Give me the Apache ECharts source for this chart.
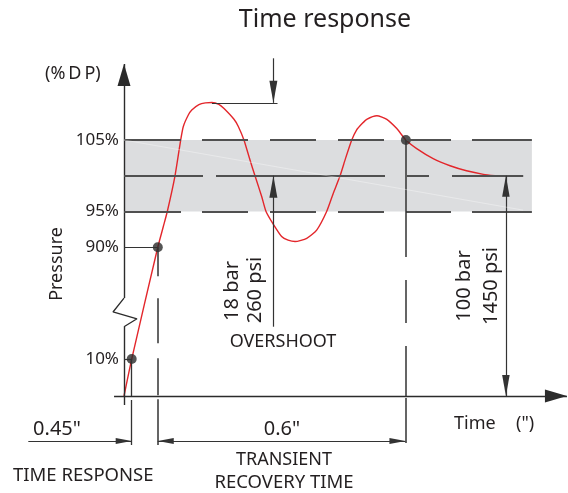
<!DOCTYPE html>
<html>
<head>
<meta charset="utf-8">
<title>Time response</title>
<script src="https://cdn.jsdelivr.net/npm/echarts@6/dist/echarts.min.js"></script>
<style>
  html, body { margin: 0; padding: 0; background: #ffffff; }
  #chart { width: 568px; height: 493px; }
</style>
</head>
<body>
<div id="chart"></div>
<script>
// ---- Step response of the pressure loop (schematic, time axis not to scale) ----
// time in diagram units, pressure in % of the set value
const curveTime = [0, 1.78, 7.8, 9.08, 10.0, 11.78, 13.09, 13.7, 14.85, 15.65, 17.3, 18.8,
  20.3, 21.9, 23.1, 25.4, 26.4, 27.7, 29.1, 30.25, 31.8, 32.8, 34.5, 36.4, 37.9, 39.5,
  42.2, 44.5, 46.8, 48.3, 49.9, 51.2, 52.6, 53.7, 55.0, 56.05, 58.4, 60.7, 63.0, 65.1,
  67.6, 71.4, 75.3, 79.1, 83.0, 85.7];
const curvePct = [0, 10, 90, 92.9, 95, 100, 105, 106.9, 108.5, 109.2, 109.95, 110.2,
  110.25, 110.0, 109.4, 107.9, 106.9, 105, 102.2, 100, 97.1, 95, 93.2, 91.5, 91.0, 90.8,
  91.25, 92.4, 95, 97.5, 100, 102.5, 105, 106.4, 107.3, 107.9, 108.4, 107.9, 106.6, 105,
  103.8, 102.4, 101.4, 100.7, 100.2, 100.0];

// measured points: 10 %, 90 % and re-entry into the 105 % band
const markerTime = [1.78, 7.8, 65.1];
const markerPct = [10, 90, 105];

// pressure axis
const tickPct = [10, 90, 95, 105];
const tickLabels = ['10%', '90%', '95%', '105%'];
const bandPct = [95, 105];
const setPct = 100;

// overshoot peak
const peakTime = 20.3;
const peakPct = 110.2;

// dimension texts
const responseText = '0.45"';
const recoveryText = '0.6"';
const overshootText = ['18 bar', '260 psi'];
const rangeText = ['100 bar', '1450 psi'];

// ---- layout ----
const W = 568, H = 493;
const ORIGIN = [124, 396];          // pixel position of the axes' crossing
const PX_T = 4.33, PX_L = 7.15;     // pixels per time unit / per level unit
const X_MIN = -ORIGIN[0] / PX_T, X_MAX = (W - ORIGIN[0]) / PX_T;
const Y_MIN = -(H - ORIGIN[1]) / PX_L, Y_MAX = ORIGIN[1] / PX_L;

// broken pressure scale: 0-10 % compressed, 10-90 % cut, above 90 % linear
const BREAK = { lowPct: 10, lowLevel: 5.17, highPct: 90, highLevel: 20.8 };
function level(p) {
  if (p <= BREAK.lowPct) return p * BREAK.lowLevel / BREAK.lowPct;
  if (p <= BREAK.highPct) {
    return BREAK.lowLevel + (p - BREAK.lowPct) *
      (BREAK.highLevel - BREAK.lowLevel) / (BREAK.highPct - BREAK.lowPct);
  }
  return BREAK.highLevel + (p - BREAK.highPct);
}
const tickLevels = tickPct.map(level);

// placement of the drawing aids (diagram units)
const overshootT = 34.5, recoveryT = 88.2, bandEndT = 94.2, setLineEndT = 92.2;
const peakLineEndT = 35.45;
const dimLevel = -6.3, extLevel = -6.85, extLevel2 = -6.6;
const axisLow = -1.26, axisTip = 46.43, xAxisStart = -2.3, xAxisTip = 102.3;
const breakTop = 13.7, breakBottom = 9.69;
const overshootTop = 47.23, overshootBottom = 9.69;
const dimLeftStart = -22.1;

const FONT = '"Noto Sans", "Open Sans", sans-serif';
const INK = '#231f20';
const AXIS = { color: '#2b2b2b', width: 1.4, type: 'solid' };
const DIM = { color: '#333333', width: 1.2, type: 'solid' };
const LEVEL = '#505050';

function end(t, l, arrow) {
  const o = { coord: [t, l] };
  if (arrow) {
    o.symbol = 'triangle';
    o.symbolSize = arrow;
    o.symbolOffset = [0, '50%'];
  } else {
    o.symbol = 'none';
  }
  return o;
}
function seg(a, b, style) {
  a.lineStyle = style;
  return [a, b];
}

const AX_ARROW = [13, 22];
const DIM_ARROW = [6, 16];
const OS_ARROW = [8, 22];
const RG_ARROW = [7.5, 21];

const guideLines = [
  // axes
  seg(end(0, axisLow), end(0, breakBottom), AXIS),
  seg(end(0, breakTop), end(0, axisTip, AX_ARROW), AXIS),
  seg(end(xAxisStart, 0), end(xAxisTip, 0, AX_ARROW), AXIS),
  // tolerance band borders and set value
  seg(end(0, level(bandPct[1])), end(bandEndT, level(bandPct[1])),
    { color: LEVEL, width: 2, type: [57, 21, 46, 22, 46, 22, 46, 22, 45, 21, 60] }),
  seg(end(0, level(bandPct[0])), end(bandEndT, level(bandPct[0])),
    { color: LEVEL, width: 2, type: [57, 21, 46, 22, 46, 22, 46, 22, 45, 21, 60] }),
  seg(end(0, level(setPct)), end(setLineEndT, level(setPct)),
    { color: LEVEL, width: 2, type: [79, 13, 169, 22, 22, 23, 72] }),
  // leaders to the 10 % / 90 % points
  seg(end(0, level(markerPct[0])), end(markerTime[0], level(markerPct[0])), DIM),
  seg(end(0, level(markerPct[1])), end(markerTime[1], level(markerPct[1])), DIM),
  // extension lines down to the time dimensions
  seg(end(markerTime[0], level(markerPct[0])), end(markerTime[0], extLevel),
    { color: '#333333', width: 1.3, type: [37, 4, 46] }),
  seg(end(markerTime[1], level(markerPct[1])), end(markerTime[1], extLevel),
    { color: '#333333', width: 1.5, type: [29, 22, 45, 15, 37, 4, 46] }),
  seg(end(markerTime[2], level(markerPct[2])), end(markerTime[2], extLevel2),
    { color: '#333333', width: 1.5, type: [117, 23, 43, 23, 50, 2, 45] }),
  // overshoot dimension
  seg(end(peakTime, level(peakPct)), end(peakLineEndT, level(peakPct)), DIM),
  seg(end(overshootT, overshootTop), end(overshootT, level(peakPct), OS_ARROW), DIM),
  seg(end(overshootT, level(setPct), OS_ARROW), end(overshootT, overshootBottom), DIM),
  // full range dimension
  seg(end(recoveryT, level(setPct), RG_ARROW), end(recoveryT, 0, RG_ARROW), DIM),
  // time dimensions
  seg(end(dimLeftStart, dimLevel), end(markerTime[0], dimLevel, DIM_ARROW), DIM),
  seg(end(markerTime[1], dimLevel, DIM_ARROW), end(markerTime[2] - 0.1, dimLevel, DIM_ARROW), DIM),
  // light streak across the band
  seg(end(0, level(bandPct[1])), end(92.15, 26.0),
    { color: 'rgba(255,255,255,0.35)', width: 1, type: 'solid' })
];

// axis break glyph on the pressure axis
const breakGlyph = [[0, breakTop], [-2.54, 11.75], [3.0, 10.8], [0, breakBottom]];

const texts = [
  { text: 'Time response', x: 325, y: 20, size: 25, align: 'center' },
  { text: '(%\u2009D\u2009P)', x: 45, y: 74, size: 18, align: 'left' },
  { text: 'Pressure', x: 57, y: 264, size: 18, align: 'center', rot: true },
  { text: overshootText[0], x: 232.5, y: 291, size: 20, align: 'center', rot: true },
  { text: overshootText[1], x: 255.5, y: 290, size: 20, align: 'center', rot: true },
  { text: rangeText[0], x: 464, y: 286, size: 20, align: 'center', rot: true },
  { text: rangeText[1], x: 491, y: 286, size: 20, align: 'center', rot: true },
  { text: 'OVERSHOOT', x: 283, y: 342, size: 18, align: 'center' },
  { text: responseText, x: 57, y: 429, size: 20, align: 'center' },
  { text: recoveryText, x: 282, y: 429, size: 20, align: 'center' },
  { text: 'Time', x: 454, y: 423.5, size: 18, align: 'left' },
  { text: '(")', x: 516, y: 423.5, size: 18, align: 'left' },
  { text: 'TIME RESPONSE', x: 13, y: 476, size: 18.5, align: 'left' },
  { text: 'TRANSIENT', x: 284, y: 460, size: 18, align: 'center' },
  { text: 'RECOVERY TIME', x: 284, y: 482.5, size: 18.5, align: 'center' }
];

const chart = echarts.init(document.getElementById('chart'), null, { renderer: 'canvas' });

chart.setOption({
  backgroundColor: '#ffffff',
  animation: false,
  grid: { left: 0, right: 0, top: 0, bottom: 0, containLabel: false, outerBoundsMode: 'none' },
  xAxis: {
    type: 'value', min: X_MIN, max: X_MAX,
    axisLine: { show: false, onZero: false },
    axisTick: { show: false }, axisLabel: { show: false }, splitLine: { show: false }
  },
  yAxis: {
    type: 'value', min: Y_MIN, max: Y_MAX,
    position: 'left',
    offset: -ORIGIN[0],
    axisLine: { show: false, onZero: false },
    axisTick: { show: false },
    splitLine: { show: false },
    axisLabel: {
      show: true,
      customValues: tickLevels,
      margin: 5,
      fontSize: 17,
      fontFamily: FONT,
      color: INK,
      formatter: function (v) {
        for (let i = 0; i < tickLevels.length; i++) {
          if (Math.abs(tickLevels[i] - v) < 1e-6) return tickLabels[i];
        }
        return '';
      }
    }
  },
  series: [
    {
      name: 'band', type: 'line', data: [], z: 1, silent: true,
      markArea: {
        silent: true,
        itemStyle: { color: '#dcdddf' },
        data: [[{ coord: [0, level(bandPct[1])] }, { coord: [bandEndT, level(bandPct[0])] }]]
      }
    },
    {
      name: 'guides', type: 'line', data: [], z: 2, silent: true,
      markLine: {
        silent: true,
        animation: false,
        symbol: ['none', 'none'],
        label: { show: false },
        emphasis: { disabled: true },
        lineStyle: { type: 'solid', color: '#333333', width: 1.2 },
        data: guideLines
      }
    },
    {
      name: 'break', type: 'line', z: 2, silent: true,
      data: breakGlyph, symbol: 'none',
      lineStyle: { color: AXIS.color, width: 1.3 }
    },
    {
      name: 'pressure', type: 'line', z: 3, silent: true,
      data: curveTime.map((t, i) => [t, level(curvePct[i])]),
      symbol: 'none', smooth: 0.2,
      lineStyle: { color: '#e3262b', width: 1.4 }
    },
    {
      name: 'points', type: 'scatter', z: 4, silent: true,
      data: markerTime.map((t, i) => [t, level(markerPct[i])]),
      symbolSize: 10,
      itemStyle: { color: '#2a2a2a' }
    }
  ],
  graphic: texts.map(function (d) {
    return {
      type: 'text',
      x: d.x, y: d.y,
      rotation: d.rot ? Math.PI / 2 : 0,
      silent: true,
      style: {
        text: d.text,
        fill: INK,
        fontSize: d.size,
        fontFamily: FONT,
        align: d.align, textAlign: d.align,
        verticalAlign: 'middle', textVerticalAlign: 'middle'
      }
    };
  })
});
</script>
</body>
</html>
